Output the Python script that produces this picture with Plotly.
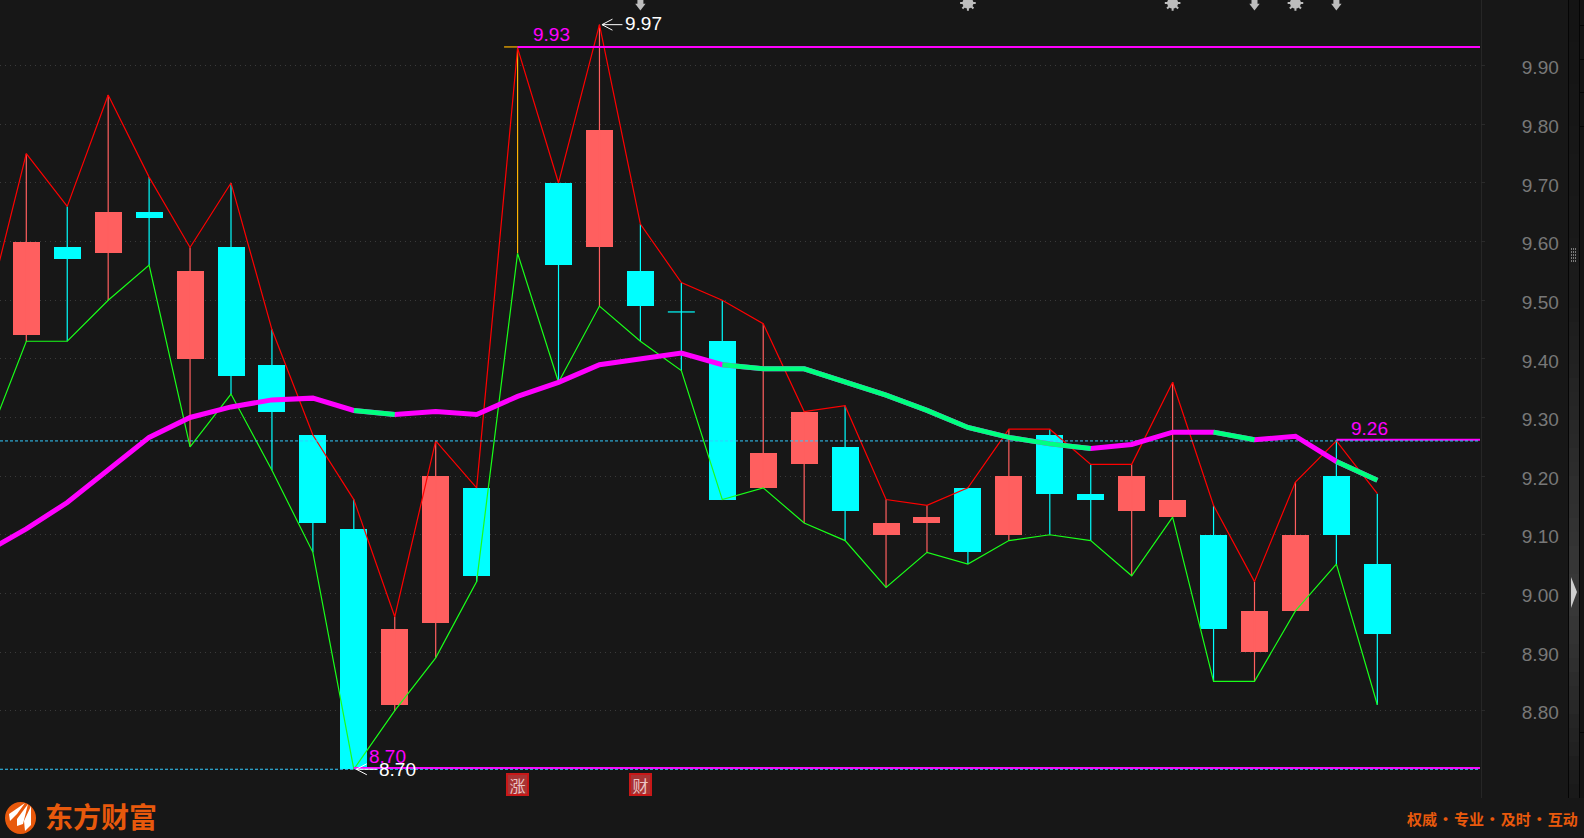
import plotly.graph_objects as go

# index -1 is the candle just off the left edge: only its high/low/MA reach the screen
idx = list(range(-1, 34))
opens = [None, 9.44, 9.59, 9.58, 9.65, 9.40, 9.59, 9.39, 9.27, 9.11, 8.81, 8.95, 9.18, 9.932, 9.70, 9.59, 9.55, 9.48, 9.43, 9.18, 9.22, 9.25, 9.10, 9.12, 9.18, 9.10, 9.27, 9.17, 9.14, 9.13, 9.10, 8.90, 8.97, 9.20, 9.05]
closes = [None, 9.60, 9.57, 9.65, 9.64, 9.55, 9.37, 9.31, 9.12, 8.70, 8.94, 9.20, 9.03, 9.932, 9.56, 9.79, 9.49, 9.48, 9.16, 9.24, 9.31, 9.14, 9.12, 9.13, 9.07, 9.20, 9.17, 9.16, 9.20, 9.16, 8.94, 8.97, 9.10, 9.10, 8.93]
highs = [9.47, 9.75, 9.66, 9.85, 9.71, 9.59, 9.70, 9.45, 9.27, 9.16, 8.96, 9.26, 9.18, 9.93, 9.70, 9.97, 9.63, 9.53, 9.50, 9.46, 9.31, 9.32, 9.16, 9.15, 9.18, 9.28, 9.28, 9.22, 9.22, 9.36, 9.15, 9.02, 9.19, 9.26, 9.17]
lows = [9.25, 9.43, 9.43, 9.50, 9.56, 9.25, 9.34, 9.21, 9.07, 8.70, 8.80, 8.89, 9.02, 9.58, 9.36, 9.49, 9.43, 9.38, 9.16, 9.18, 9.12, 9.09, 9.01, 9.07, 9.05, 9.09, 9.10, 9.09, 9.03, 9.13, 8.85, 8.85, 8.97, 9.05, 8.81]
ma = [9.07, 9.11, 9.155, 9.21, 9.266, 9.30, 9.318, 9.33, 9.333, 9.312, 9.305, 9.31, 9.305, 9.336, 9.36, 9.39, 9.40, 9.41, 9.39, 9.383, 9.383, 9.36, 9.338, 9.312, 9.283, 9.266, 9.255, 9.247, 9.254, 9.275, 9.275, 9.262, 9.268, 9.225, 9.193]
ma_green_spans = [(8, 9), (17, 26), (29, 30), (32, 33)]

y_ticks = [8.8, 8.9, 9.0, 9.1, 9.2, 9.3, 9.4, 9.5, 9.6, 9.7, 9.8, 9.9]
level_high = (12, 9.93)
level_recent = (32, 9.26)
level_low = (8, 8.70)
peak = (14, 9.97)
trough = (8, 8.70)
arrow_marks = [15, 30, 32]
gear_marks = [23, 28, 31]
badges = [(12, "涨"), (15, "财")]

BG = "#171717"
RED_BODY = "#FF5F5F"
CYAN = "#00FFFF"
ORANGE = "#FFB400"
MAGENTA = "#FF00FF"
SPRING = "#00FF7F"
DASH = "#33CCFF"
BRAND = "#E8590C"
W, H = 1584, 838
PLOT_R, PLOT_B = 1480, 798
STEP = 40.94
X0 = 26.3
x_left = -X0 / STEP
x_right = (PLOT_R - X0) / STEP
PX_PER_UNIT = 586.3
Y_990 = 65.7
y_top = 9.9 + Y_990 / PX_PER_UNIT
y_bottom = 9.9 - (PLOT_B - Y_990) / PX_PER_UNIT


def px(x):
    return x / W


def py(y):
    return 1 - y / H


def col(i):
    if i == 12:
        return ORANGE
    return RED_BODY if closes[i + 1] > opens[i + 1] else CYAN


fig = go.Figure()

# candle bodies
cx, cb, ch, cc = [], [], [], []
for k, i in enumerate(idx):
    if opens[k] is None or opens[k] == closes[k]:
        continue
    cx.append(i)
    cb.append(min(opens[k], closes[k]))
    ch.append(abs(closes[k] - opens[k]))
    cc.append(col(i))
fig.add_trace(go.Bar(x=cx, y=ch, base=cb, width=27 / STEP, marker=dict(color=cc, line=dict(width=0)),
                     showlegend=False, hoverinfo="skip"))

# wicks and flat bodies
for colour in (RED_BODY, CYAN, ORANGE):
    wx, wy = [], []
    for k, i in enumerate(idx):
        if opens[k] is None or col(i) != colour:
            continue
        wx += [i, i, None]
        wy += [lows[k], highs[k], None]
        if opens[k] == closes[k]:
            wx += [i - 0.33, i + 0.33, None]
            wy += [opens[k], opens[k], None]
    fig.add_trace(go.Scatter(x=wx, y=wy, mode="lines", line=dict(color=colour, width=1.2),
                             showlegend=False, hoverinfo="skip"))

# high / low envelopes
fig.add_trace(go.Scatter(x=idx, y=highs, mode="lines", line=dict(color="#FF0000", width=1.2), showlegend=False, hoverinfo="skip"))
fig.add_trace(go.Scatter(x=idx, y=lows, mode="lines", line=dict(color="#19FF19", width=1.2), showlegend=False, hoverinfo="skip"))

# horizontal level lines
for start, level in (level_high, level_recent, level_low):
    fig.add_trace(go.Scatter(x=[start, x_right], y=[level + 0.002, level + 0.002], mode="lines",
                             line=dict(color=MAGENTA, width=2), showlegend=False, hoverinfo="skip"))
for level in (level_recent[1], level_low[1]):
    fig.add_trace(go.Scatter(x=[x_left, x_right], y=[level, level], mode="lines",
                             line=dict(color=DASH, width=1, dash="3px,2px"), showlegend=False, hoverinfo="skip"))

# moving average, magenta with green stretches
fig.add_trace(go.Scatter(x=idx, y=ma, mode="lines", line=dict(color=MAGENTA, width=5), showlegend=False, hoverinfo="skip"))
for a, b in ma_green_spans:
    fig.add_trace(go.Scatter(x=idx[a + 1:b + 2], y=ma[a + 1:b + 2], mode="lines", line=dict(color=SPRING, width=5),
                             showlegend=False, hoverinfo="skip"))

# event marks along the top edge
GREY = "#BDBDBD"
top_gear = y_top - 3 / PX_PER_UNIT
fig.add_trace(go.Scatter(x=gear_marks, y=[top_gear] * len(gear_marks), mode="markers",
                         marker=dict(symbol="circle", size=11, color=GREY), showlegend=False, hoverinfo="skip"))
fig.add_trace(go.Scatter(x=gear_marks, y=[top_gear] * len(gear_marks), mode="markers",
                         marker=dict(symbol="asterisk-open", size=13, color=GREY, line=dict(color=GREY, width=2)),
                         showlegend=False, hoverinfo="skip"))
fig.add_trace(go.Scatter(x=arrow_marks, y=[y_top - 1 / PX_PER_UNIT] * len(arrow_marks), mode="markers",
                         marker=dict(symbol="square", size=6, color=GREY), showlegend=False, hoverinfo="skip"))
fig.add_trace(go.Scatter(x=arrow_marks, y=[y_top - 6 / PX_PER_UNIT] * len(arrow_marks), mode="markers",
                         marker=dict(symbol="triangle-down", size=9, color=GREY), showlegend=False, hoverinfo="skip"))

LABEL_FONT = "Liberation Sans"
ann = []


def label(x, y, text, colour, xshift, yshift):
    ann.append(dict(x=x, y=y, text=text, showarrow=False, xanchor="left", yanchor="middle", xshift=xshift, yshift=yshift,
                    font=dict(family=LABEL_FONT, size=19, color=colour)))


label(level_high[0], level_high[1], f"{level_high[1]:.2f}", MAGENTA, 13, 14)
label(level_recent[0], level_recent[1], f"{level_recent[1]:.2f}", MAGENTA, 13, 12)
label(level_low[0], level_low[1], f"{level_low[1]:.2f}", MAGENTA, 13, 13)
label(peak[0], peak[1], f"{peak[1]:.2f}", "#FFFFFF", 24, 1)
label(trough[0], trough[1], f"{trough[1]:.2f}", "#FFFFFF", 23, 0)
for x, t in badges:
    ann.append(dict(x=x, yref="paper", y=py(784.5), xanchor="center", yanchor="middle", text=t, showarrow=False,
                    width=19, height=19, borderwidth=2, borderpad=0,
                    bgcolor="#A83434", bordercolor="#C81818",
                    font=dict(family="Noto Sans CJK SC", size=16, color="#EBC4C4")))
ann.append(dict(xref="paper", yref="paper", x=px(43), y=py(816), xanchor="left", yanchor="middle", showarrow=False, text="东方财富",
                font=dict(family="Noto Sans CJK SC", size=28, color=BRAND, weight=700)))
ann.append(dict(xref="paper", yref="paper", x=px(1580), y=py(818), xanchor="right", yanchor="middle", showarrow=False,
                text="权威\u200a·\u200a专业\u200a·\u200a及时\u200a·\u200a互动",
                font=dict(family="Noto Sans CJK SC", size=15, color=BRAND, weight=700)))

# window furniture
shapes = []

# open arrows pointing at the extreme prices, anchored to the data, sized in pixels
for x, y in (peak, trough):
    shapes.append(dict(type="path", xref="x", yref="y", xsizemode="pixel", ysizemode="pixel", xanchor=x, yanchor=y,
                       path="M2.5,0L23,0M13,-5.5L2.5,0L13,5.5", line=dict(color="#FFFFFF", width=1)))


def rect(x0, y0, x1, y1, colour):
    shapes.append(dict(type="rect", xref="paper", yref="paper", x0=px(x0), x1=px(x1), y0=py(y1), y1=py(y0),
                       fillcolor=colour, line=dict(width=0), layer="below"))


def poly(points, colour):
    d = "M" + "L".join(f"{px(a):.5f},{py(b):.5f}" for a, b in points) + "Z"
    shapes.append(dict(type="path", xref="paper", yref="paper", path=d, fillcolor=colour, line=dict(width=0)))


rect(1481, 0, 1482, PLOT_B, "#262626")
strip_stops = [(0, 0x14), (300, 0x1C), (592, 0x3A), (798, 0x18)]
for y in range(0, PLOT_B, 14):
    for (a, ca), (b, cb_) in zip(strip_stops, strip_stops[1:]):
        if a <= y < b:
            v = int(ca + (cb_ - ca) * (y - a) / (b - a))
            rect(1568, y, 1579, min(y + 14, PLOT_B), f"rgb({v},{v},{v})")
rect(1568, 0, 1569, PLOT_B, "#050505")
rect(1579, 0, 1580, PLOT_B, "#050505")
rect(1580, 0, 1584, PLOT_B, "#141414")
for y in (25, 59, 92, 126, 732):
    rect(1580, y, 1584, y + 1, "#050505")
for row in range(5):
    for c in range(3):
        rect(1571 + 2 * c, 248 + 3 * row, 1572 + 2 * c, 250 + 3 * row, "#7A7A7A")
poly([(1571, 577), (1577, 592), (1571, 608)], "#CFCFCF")

# logo
shapes.append(dict(type="circle", xref="paper", yref="paper", x0=px(5), x1=px(36), y0=py(834), y1=py(802),
                   fillcolor=BRAND, line=dict(width=0)))
poly([(25, 803), (9, 814), (10, 821), (17, 814)], "#FFFFFF")
poly([(28, 804), (17, 819), (17, 826), (23, 824)], "#FFFFFF")
poly([(31, 806), (24, 821), (25, 831), (31, 825)], "#FFFFFF")

fig.update_layout(
    width=W, height=H, margin=dict(l=0, r=0, t=0, b=0), autosize=False,
    paper_bgcolor=BG, plot_bgcolor=BG, showlegend=False, bargap=0, barmode="overlay",
    annotations=ann, shapes=shapes,
    xaxis=dict(domain=[0, PLOT_R / W], range=[x_left, x_right], visible=False, fixedrange=True),
    yaxis=dict(domain=[1 - PLOT_B / H, 1], range=[y_bottom, y_top], side="right", anchor="x",
               tickvals=y_ticks, ticktext=[f"{v:.2f}" for v in y_ticks], ticklabelstandoff=33, ticklabelshift=2,
               ticks="outside", ticklen=4, tickcolor="#2A2A2A", tickwidth=1,
               tickfont=dict(family=LABEL_FONT, size=19, color="#787878"),
               showgrid=True, gridcolor="#3A3A3A", griddash="1px,4px", gridwidth=1, zeroline=False, showline=False, fixedrange=True),
)
fig.write_html("out.html", config=dict(displayModeBar=False),
               post_script="document.body.style.margin='0';document.body.style.overflow='hidden';document.body.style.background='#171717';")
